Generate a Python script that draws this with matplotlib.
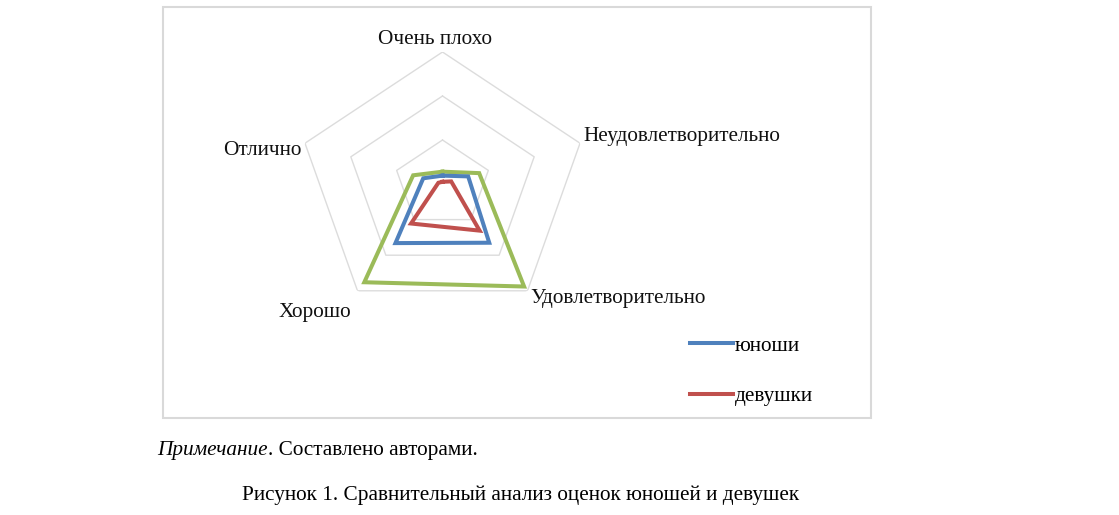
import numpy as np
import matplotlib
matplotlib.use("Agg")
import matplotlib.pyplot as plt
from matplotlib.patches import Rectangle

# Categories (clockwise from the top)
categories = ["Очень плохо", "Неудовлетворительно", "Удовлетворительно", "Хорошо", "Отлично"]

# Series values (scale 0..30)
boys = [1.9, 5.6, 16.5, 16.6, 4.2]
girls = [0.5, 1.9, 13.1, 11.1, 0.9]
total = [2.8, 8.0, 28.8, 27.6, 6.4]
grid_levels = [10, 20, 30]

# Label offsets in pixels and alignment for each category label
label_offsets = [(-8, 12), (3, 7), (3, -8), (-6, -22), (-3, -7)]
label_align = ["center", "left", "left", "right", "right"]

plt.rcParams["font.family"] = ["Liberation Serif", "DejaVu Serif"]
FS = 15.3

W, H = 1119, 515
fig = plt.figure(figsize=(W / 100, H / 100), dpi=100)

# Chart frame
fig.add_artist(Rectangle((163 / W, (H - 418) / H), (871 - 163) / W, (418 - 7) / H,
                         transform=fig.transFigure, fill=False,
                         edgecolor="#D9D9D9", lw=1.5))

# Radar axes (picture is a bit stretched horizontally)
cx, cy, rx, ry = 442.5, 184, 144.6, 132
ax = fig.add_axes([(cx - rx) / W, (H - cy - ry) / H, 2 * rx / W, 2 * ry / H],
                  projection="polar")
ax.set_aspect("auto")
ax.set_theta_offset(np.pi / 2)
ax.set_theta_direction(-1)
ax.set_ylim(0, grid_levels[-1])
ax.grid(False)
ax.spines["polar"].set_visible(False)
ax.set_xticks([])
ax.set_yticks([])
ax.patch.set_alpha(0)

n = len(categories)
theta = np.linspace(0, 2 * np.pi, n, endpoint=False)
theta_c = np.append(theta, theta[0])

# Pentagon gridlines
for lev in grid_levels:
    ax.plot(theta_c, [lev] * (n + 1), color="#DCDCDC", lw=1.0, zorder=1)

def closed(vals):
    return vals + vals[:1]

ax.plot(theta_c, closed(total), color="#9BBB59", lw=2.9, label="всего",
        solid_joinstyle="miter", zorder=3)
l_boys, = ax.plot(theta_c, closed(boys), color="#4F81BD", lw=2.9, label="юноши",
                  solid_joinstyle="miter", zorder=4)
l_girls, = ax.plot(theta_c, closed(girls), color="#C0504D", lw=2.9, label="девушки",
                   solid_joinstyle="miter", zorder=5)

# Category labels
for t, name, off, ha in zip(theta, categories, label_offsets, label_align):
    ax.annotate(name, xy=(t, grid_levels[-1]), xytext=off, textcoords="offset pixels",
                ha=ha, va="center", fontsize=FS, color="#111111", annotation_clip=False)

fig.legend(handles=[l_boys, l_girls], loc="center left",
           bbox_to_anchor=(690 / W, (H - 371) / H), frameon=False,
           borderpad=0, borderaxespad=0, handlelength=2.0, handletextpad=0.1,
           labelspacing=1.43, prop={"size": FS})

# Notes under the chart
t1 = fig.text(157 / W, (H - 450) / H, "Примечание", fontsize=FS, style="italic",
              ha="left", va="center")
ax.annotate(". Составлено авторами.", xy=(1, 0), xycoords=t1, xytext=(0, 0),
            textcoords="offset pixels", ha="left", va="bottom", fontsize=FS,
            annotation_clip=False)

fig.text(521 / W, (H - 495) / H, "Рисунок 1. Сравнительный анализ оценок юношей и девушек",
         fontsize=FS, ha="center", va="center")

fig.savefig("out.png", dpi=100)
